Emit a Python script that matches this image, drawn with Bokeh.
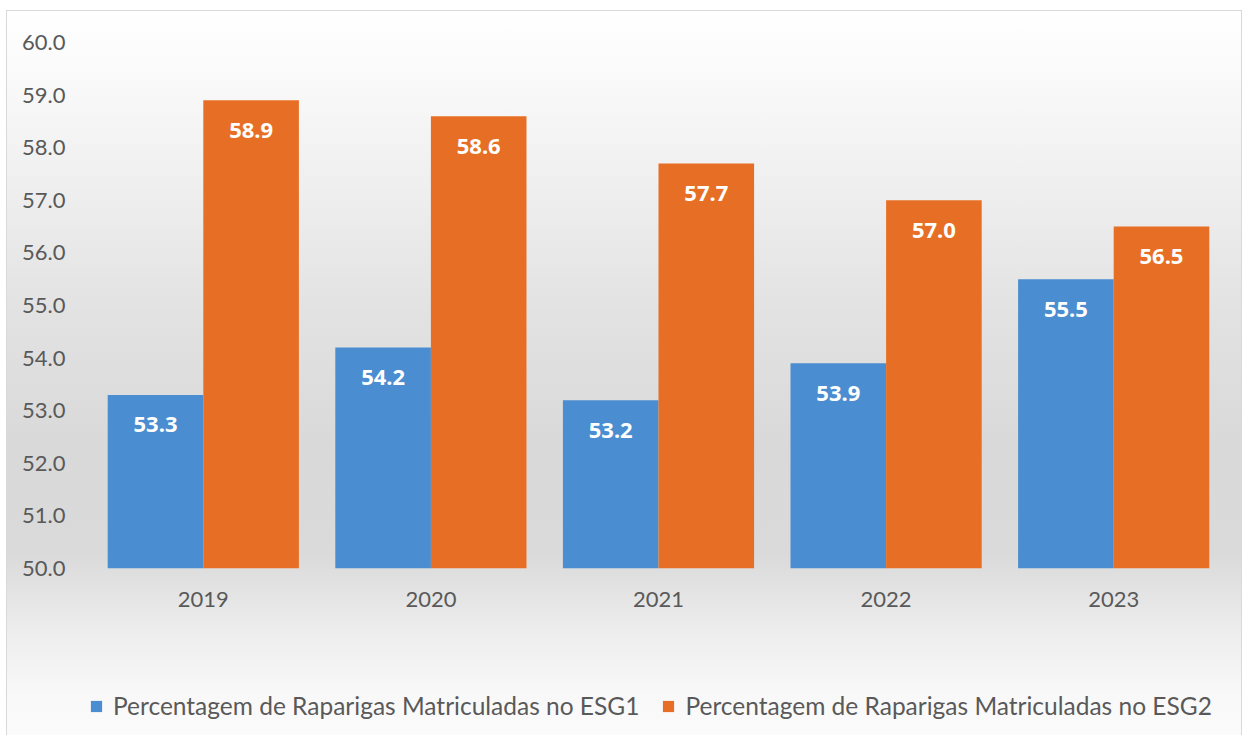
from bokeh.plotting import figure
from bokeh.layouts import column
from bokeh.models import (ColumnDataSource, LabelSet, Legend, LegendItem, FixedTicker,
                          NumeralTickFormatter, Range1d)
from bokeh.core.properties import value
from bokeh.transform import dodge
from bokeh.embed import file_html
from bokeh.resources import INLINE

years = ["2019", "2020", "2021", "2022", "2023"]
esg1 = [53.3, 54.2, 53.2, 53.9, 55.5]
esg2 = [58.9, 58.6, 57.7, 57.0, 56.5]
series_names = ["Percentagem de Raparigas Matriculadas no ESG1",
                "Percentagem de Raparigas Matriculadas no ESG2"]
y_ticks = [50, 51, 52, 53, 54, 55, 56, 57, 58, 59, 60]
colors = ["#4a8dd0", "#e76f25"]

src = ColumnDataSource(dict(
    years=years, esg1=esg1, esg2=esg2,
    l1=[f"{v:.1f}" for v in esg1], l2=[f"{v:.1f}" for v in esg2],
))

FONT = "Lato"
BOLD_FONT = "Noto Sans"
GREY = "#595959"

p = figure(x_range=years, y_range=Range1d(50, 60),
           frame_width=1138, frame_height=526,
           output_backend="svg", toolbar_location=None,
           min_border_left=82, min_border_right=14, min_border_top=31, min_border_bottom=102)
p.background_fill_alpha = 0
p.border_fill_alpha = 0
p.outline_line_color = None
p.grid.grid_line_color = None

r1 = p.vbar(x=dodge("years", -0.21, range=p.x_range), top="esg1", bottom=50, width=0.42,
            source=src, fill_color=colors[0], line_color=None)
r2 = p.vbar(x=dodge("years", 0.21, range=p.x_range), top="esg2", bottom=50, width=0.42,
            source=src, fill_color=colors[1], line_color=None)

for col, lab, off in (("esg1", "l1", -0.21), ("esg2", "l2", 0.21)):
    ls = LabelSet(x=dodge("years", off, range=p.x_range), y=col, text=lab, source=src,
                  y_offset=-30, text_align="center", text_baseline="middle",
                  text_color="white", text_font=value(BOLD_FONT), text_font_style="bold",
                  text_font_size="22px")
    p.add_layout(ls)

p.yaxis.ticker = FixedTicker(ticks=y_ticks)
p.yaxis.formatter = NumeralTickFormatter(format="0.0")
for ax in (p.xaxis, p.yaxis):
    ax.axis_line_color = None
    ax.major_tick_line_color = None
    ax.minor_tick_line_color = None
    ax.major_tick_in = 0
    ax.major_tick_out = 0
    ax.major_label_text_color = GREY
    ax.major_label_text_font = FONT
    ax.major_label_text_font_size = "22px"
p.yaxis.major_label_standoff = 24
p.xaxis.major_label_standoff = 23

# legend strip underneath the chart (zero-size proxy glyphs carry the swatch colours)
lf = figure(width=1234, height=65, output_backend="svg", toolbar_location=None,
            x_axis_type=None, y_axis_type=None, min_border=0)
lf.background_fill_alpha = 0
lf.border_fill_alpha = 0
lf.outline_line_color = None
lf.grid.grid_line_color = None
g1 = lf.vbar(x=[0], top=[0], bottom=0, width=0, fill_color=colors[0], line_color=None)
g2 = lf.vbar(x=[0], top=[0], bottom=0, width=0, fill_color=colors[1], line_color=None)
legend = Legend(items=[LegendItem(label=series_names[0], renderers=[g1]),
                       LegendItem(label=series_names[1], renderers=[g2])],
                orientation="horizontal", location=(0, 15),
                label_text_font=FONT, label_text_font_size="24.5px", label_text_color=GREY,
                glyph_width=14, glyph_height=14, label_standoff=10, spacing=22,
                background_fill_alpha=0, border_line_color=None, margin=0, padding=4)
lf.add_layout(legend, "center")

layout = column(p, lf, spacing=0)
layout.margin = (11, 3, 0, 7)
layout.styles = {
    "background": "linear-gradient(to bottom, #ffffff 0%, #f9f9f9 10%, #efefef 24%, #e2e2e2 42%, #d9d9d9 60%, #dadada 75%, #ececec 85%, #f8f8f8 94%, #fbfbfb 100%)",
    "outline": "1.5px solid #d9d9d9",
}

open("out.html", "w").write(file_html(layout, INLINE))
